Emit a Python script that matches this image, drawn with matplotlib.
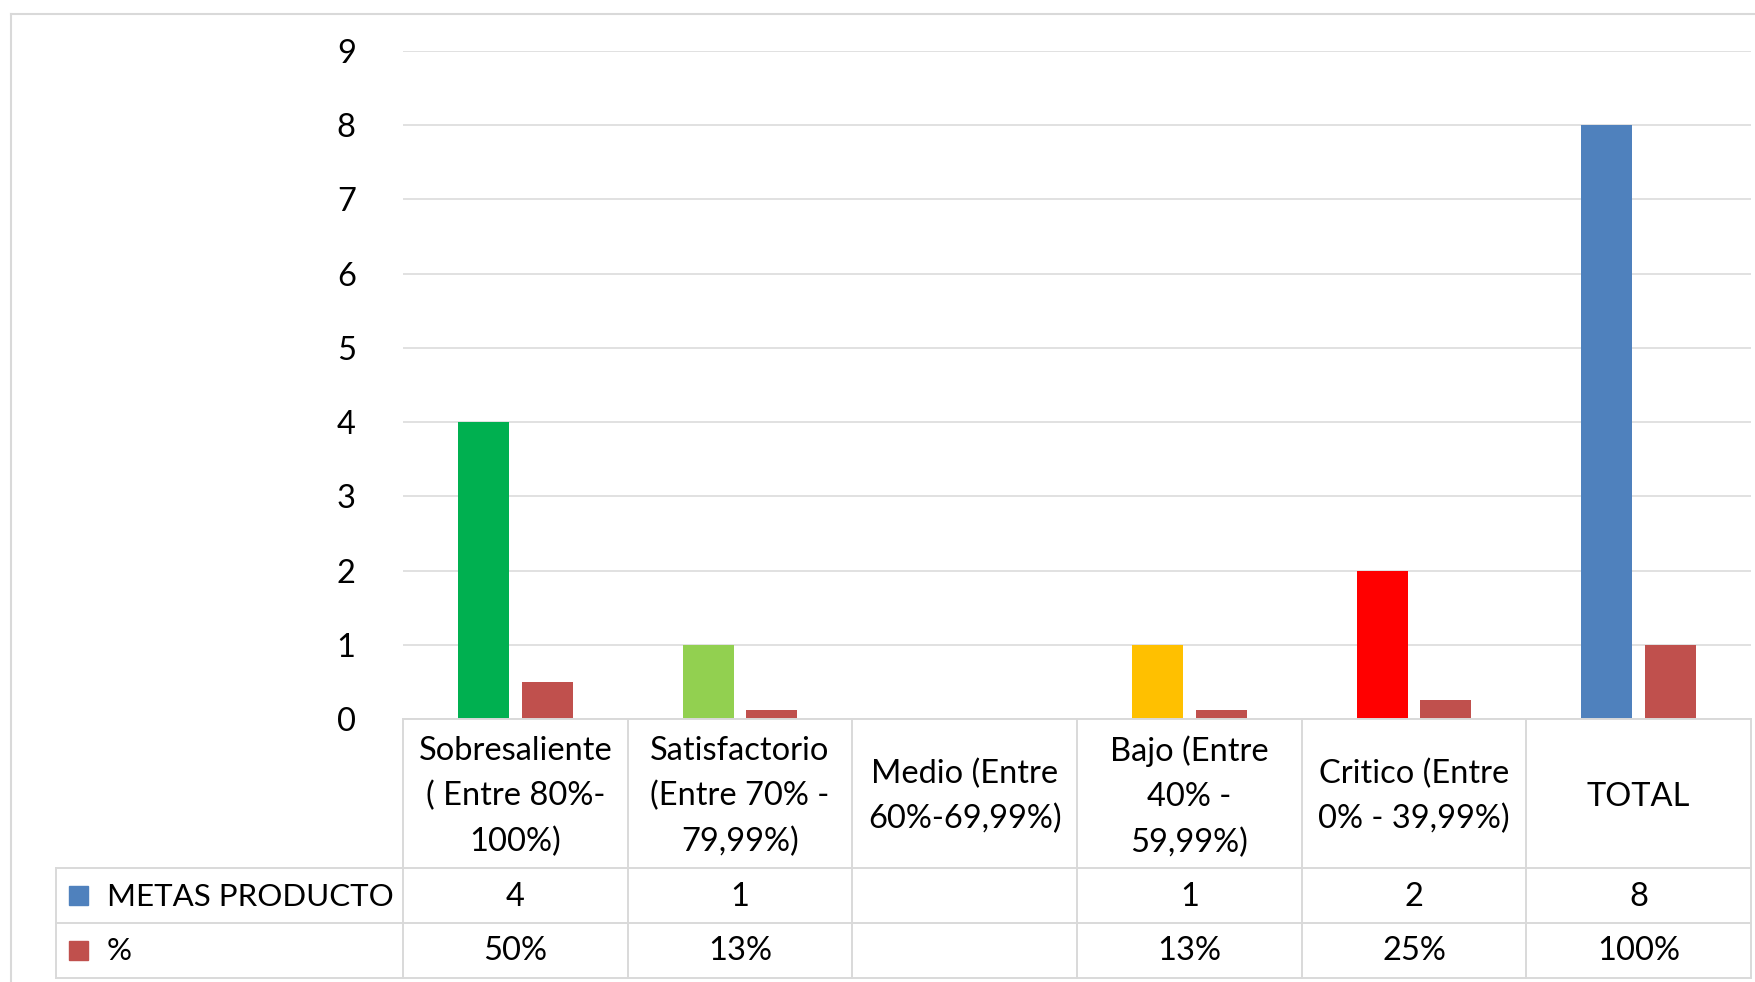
import numpy as np
import matplotlib
matplotlib.use('Agg')
import matplotlib.pyplot as plt
from matplotlib.lines import Line2D
from matplotlib.patches import Rectangle

plt.rcParams['font.family'] = ['Lato', 'DejaVu Sans']

# Datos del gráfico
categorias = ['Sobresaliente\n( Entre 80%-\n100%)', 'Satisfactorio\n(Entre 70% -\n79,99%)',
              'Medio (Entre\n60%-69,99%)', 'Bajo (Entre\n40% -\n59,99%)',
              'Critico (Entre\n0% - 39,99%)', 'TOTAL']
metas = [4, 1, np.nan, 1, 2, 8]
porcentaje = [0.5, 0.125, np.nan, 0.125, 0.25, 1.0]
colores_metas = ['#00B050', '#92D050', '#4F81BD', '#FFC000', '#FF0000', '#4F81BD']
serie_nombres = ['METAS PRODUCTO', '%']
serie_colores = ['#4F81BD', '#C0504D']

W, H = 1756, 982
fs = 23.5
fig = plt.figure(figsize=(W / 100, H / 100), dpi=100)

def fx(px):
    return px / W

def fy(py):
    return 1 - py / H

# Área de trazado (en píxeles)
x0, x1 = 403, 1751
ytop, ybot = 51, 719
ax = fig.add_axes([fx(x0), fy(ybot), fx(x1) - fx(x0), fy(ytop) - fy(ybot)])

n = len(categorias)
x = np.arange(n)
ancho = 0.227
off = 0.141
for i in range(n):
    if not np.isnan(metas[i]):
        ax.bar(x[i] - off, metas[i], ancho, color=colores_metas[i], zorder=3)
    if not np.isnan(porcentaje[i]):
        ax.bar(x[i] + off, porcentaje[i], ancho, color=serie_colores[1], zorder=3)

ax.set_xlim(-0.5, n - 0.5)
ax.set_ylim(0, 9)
ax.set_yticks(range(10))
ax.set_xticks([])
ax.grid(axis='y', color='#D9D9D9', linewidth=1.1, zorder=0)
for s in ax.spines.values():
    s.set_visible(False)
ax.tick_params(axis='y', length=0, pad=34, labelsize=fs)

gris = '#D9D9D9'
lw = 1.4

def linea(xa, ya, xb, yb):
    fig.add_artist(Line2D([fx(xa), fx(xb)], [fy(ya), fy(yb)], color=gris, lw=lw))

# Tabla de datos
cols = np.linspace(x0, x1, n + 1)
y_head, y_r1, y_r2, y_r3 = 719, 868, 923, 978
xleg = 56
linea(x0, y_head, x1, y_head)
for yy in (y_r1, y_r2, y_r3):
    linea(xleg, yy, x1, yy)
linea(xleg, y_r1, xleg, y_r3)
for c in cols:
    linea(c, y_head, c, y_r3)

for i, cat in enumerate(categorias):
    cx = (cols[i] + cols[i + 1]) / 2
    fig.text(fx(cx), fy((y_head + y_r1) / 2 + 3), cat, ha='center', va='center',
             fontsize=fs, linespacing=1.63)
    if not np.isnan(metas[i]):
        fig.text(fx(cx), fy((y_r1 + y_r2) / 2 + 1), f'{int(metas[i])}', ha='center', va='center', fontsize=fs)
    if not np.isnan(porcentaje[i]):
        fig.text(fx(cx), fy((y_r2 + y_r3) / 2 + 1), f'{int(porcentaje[i] * 100 + 0.5)}%',
                 ha='center', va='center', fontsize=fs)

# Leyenda dentro de la tabla
for k, (nom, col) in enumerate(zip(serie_nombres, serie_colores)):
    yc = (y_r1 + y_r2) / 2 if k == 0 else (y_r2 + y_r3) / 2
    fig.add_artist(Rectangle((fx(69), fy(yc + 9.5)), fx(19), 19 / H, color=col))
    fig.text(fx(107), fy(yc + 1), nom, ha='left', va='center', fontsize=22.5)

# Borde del gráfico
fig.add_artist(Line2D([fx(11), fx(11)], [fy(14), 0], color=gris, lw=1.5))
fig.add_artist(Line2D([fx(11), 1], [fy(14), fy(14)], color=gris, lw=1.5))

fig.savefig('out.png', dpi=100)
